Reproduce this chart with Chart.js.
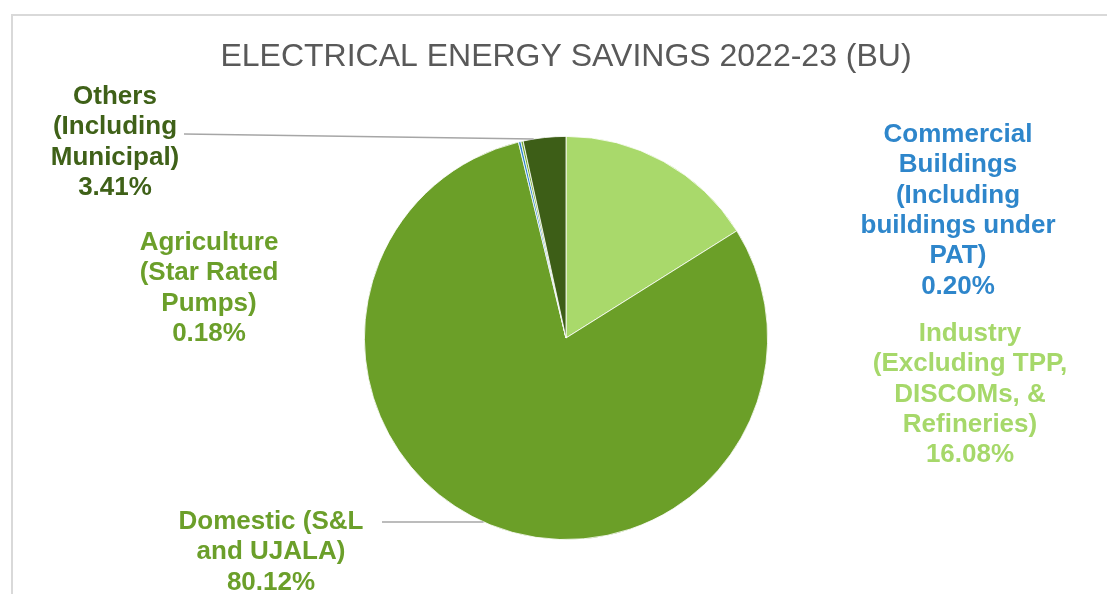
<!DOCTYPE html>
<html>
<head>
<meta charset="utf-8">
<script src="https://cdn.jsdelivr.net/npm/chart.js@4"></script>
<style>
  html, body { margin: 0; padding: 0; background: #ffffff; }
  #wrap { width: 1107px; height: 594px; }
</style>
</head>
<body>
<div id="wrap"><canvas id="c" width="1107" height="594"></canvas></div>
<script>
// ---- data ----
const categories = [
  "Industry (Excluding TPP, DISCOMs, & Refineries)",
  "Domestic (S&L and UJALA)",
  "Commercial Buildings (Including buildings under PAT)",
  "Agriculture (Star Rated Pumps)",
  "Others (Including Municipal)"
];
const labelLines = [
  ["Industry", "(Excluding TPP,", "DISCOMs, &", "Refineries)"],
  ["Domestic (S&L", "and UJALA)"],
  ["Commercial", "Buildings", "(Including", "buildings under", "PAT)"],
  ["Agriculture", "(Star Rated", "Pumps)"],
  ["Others", "(Including", "Municipal)"]
];
const shares = [16.08, 80.12, 0.20, 0.18, 3.41];
const chartTitle = "ELECTRICAL ENERGY SAVINGS 2022-23 (BU)";

// ---- styling ----
const sliceColors = ["#A9D96B", "#6B9F28", "#2E86CB", "#72A92E", "#3D5E17"];
const textColors  = ["#A6D86A", "#6B9F2A", "#2E86CB", "#6B9F2A", "#3F6118"];
// label block placement: center x, first line middle y, optional leader (start point, end y on pie edge)
const labelPlace = [
  { x: 970, y: 334 },
  { x: 271, y: 522, leader: { x: 382, y: 522, ey: 522 } },
  { x: 958, y: 135 },
  { x: 209, y: 243 },
  { x: 115, y: 97,  leader: { x: 184, y: 134, ey: 139 } }
];
const LINE_H = 30.3;
const FONT = '"Liberation Sans", Arial, sans-serif';

const decor = {
  id: 'decor',
  beforeDraw(chart) {
    const ctx = chart.ctx;
    ctx.save();
    ctx.strokeStyle = '#D9D9D9';
    ctx.lineWidth = 2;
    ctx.beginPath();
    ctx.moveTo(12, 600);
    ctx.lineTo(12, 15);
    ctx.lineTo(1110, 15);
    ctx.stroke();
    ctx.restore();
  },
  afterDatasetsDraw(chart) {
    const ctx = chart.ctx;
    const meta = chart.getDatasetMeta(0);
    ctx.save();
    // leader lines: from label to the left edge of the pie at the given height
    meta.data.forEach((arc, i) => {
      const p = labelPlace[i];
      if (!p.leader) return;
      const r = arc.outerRadius;
      const dy = p.leader.ey - arc.y;
      const ex = arc.x - Math.sqrt(Math.max(r * r - dy * dy, 0));
      ctx.strokeStyle = '#A6A6A6';
      ctx.lineWidth = 1.5;
      ctx.beginPath();
      ctx.moveTo(p.leader.x, p.leader.y);
      ctx.lineTo(ex, p.leader.ey);
      ctx.stroke();
    });
    // labels
    ctx.font = 'bold 26px ' + FONT;
    ctx.textAlign = 'center';
    ctx.textBaseline = 'middle';
    const vals = chart.data.datasets[0].data;
    vals.forEach((v, i) => {
      const p = labelPlace[i];
      const lines = labelLines[i].concat([v.toFixed(2) + '%']);
      ctx.fillStyle = textColors[i];
      lines.forEach((ln, k) => ctx.fillText(ln, p.x, p.y + k * LINE_H));
    });
    ctx.restore();
  }
};

new Chart(document.getElementById('c'), {
  type: 'pie',
  data: {
    labels: categories,
    datasets: [{
      data: shares,
      backgroundColor: sliceColors,
      borderColor: '#FFFFFF',
      borderWidth: 0.8
    }]
  },
  options: {
    responsive: false,
    animation: false,
    rotation: 0,
    layout: { padding: { left: 25, right: 0, top: 0, bottom: 54 } },
    plugins: {
      legend: { display: false },
      tooltip: { enabled: false },
      title: {
        display: true,
        text: chartTitle,
        color: '#595959',
        font: { family: FONT, size: 32, weight: 'normal' },
        padding: { top: 38, bottom: 59.6 }
      }
    }
  },
  plugins: [decor]
});
</script>
</body>
</html>
